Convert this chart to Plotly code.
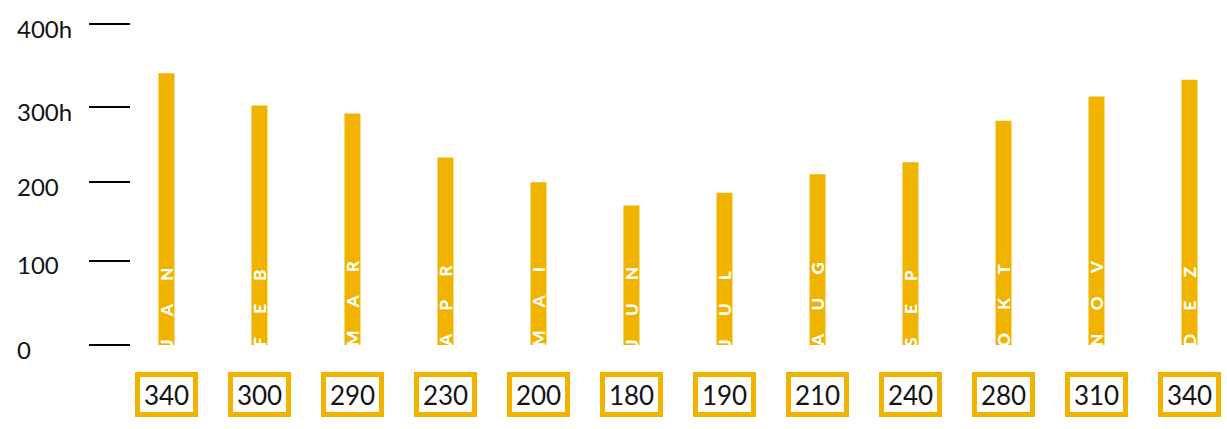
import plotly.graph_objects as go

# ---- data ----
months = ["JAN", "FEB", "MAR", "APR", "MAI", "JUN", "JUL", "AUG", "SEP", "OKT", "NOV", "DEZ"]
bar_hours = [339, 299, 289, 234, 203, 174, 190, 213, 228, 280, 310, 331]
box_labels = ["340", "300", "290", "230", "200", "180", "190", "210", "240", "280", "310", "340"]
tick_positions = [0, 105, 203, 297, 400]
tick_labels = ["0", "100", "200", "300h", "400h"]

GOLD = "#EFB300"
TEXT = "#141414"
SPACER = "\u2003\u2002\u2009"

def spaced(word):
    return SPACER.join(list(word))

fig = go.Figure()

# gold bars
fig.add_trace(go.Bar(
    x=months, y=bar_hours, width=0.172,
    marker=dict(color=GOLD, line=dict(width=0)),
    hoverinfo="skip", showlegend=False,
))

# invisible carrier bars for the rotated month names (clipped at the axis)
fig.add_trace(go.Bar(
    x=months, y=[300] * len(months), base=-6,
    width=0.9, offset=-0.45,
    marker=dict(color="rgba(0,0,0,0)", line=dict(width=0)),
    text=[spaced(m) for m in months],
    textposition="inside", insidetextanchor="start", textangle=-90,
    constraintext="none", cliponaxis=True,
    insidetextfont=dict(family="Lato", size=17, color="white", weight=900),
    hoverinfo="skip", showlegend=False,
))

# value boxes below the bars
for m, lab in zip(months, box_labels):
    fig.add_annotation(
        x=m, y=0, xref="x", yref="y", yshift=-49, yanchor="middle",
        text=lab, showarrow=False,
        width=53, height=35, borderpad=0, borderwidth=5,
        bordercolor=GOLD, bgcolor="white", align="center", valign="middle",
        font=dict(family="Lato", size=26, color=TEXT),
    )

# left-aligned axis labels
for pos, lab in zip(tick_positions, tick_labels):
    fig.add_annotation(
        x=-0.1058, xref="paper", y=pos, yref="y", yshift=-4,
        xanchor="left", yanchor="middle", text=lab, showarrow=False,
        font=dict(family="Lato", size=24, color=TEXT),
    )

fig.update_layout(
    width=1227, height=429,
    margin=dict(l=131, r=0, t=5, b=84),
    barmode="overlay",
    paper_bgcolor="white", plot_bgcolor="white",
    hovermode=False,
    xaxis=dict(range=[-0.381, 11.403], showticklabels=False, showgrid=False,
               zeroline=False, showline=False, ticks=""),
    yaxis=dict(range=[0, 424.3], tickvals=tick_positions, showticklabels=False,
               ticks="outside", ticklen=41, tickwidth=2, tickcolor="black",
               showgrid=False, zeroline=False, showline=False),
)

fig.write_html("out.html")
